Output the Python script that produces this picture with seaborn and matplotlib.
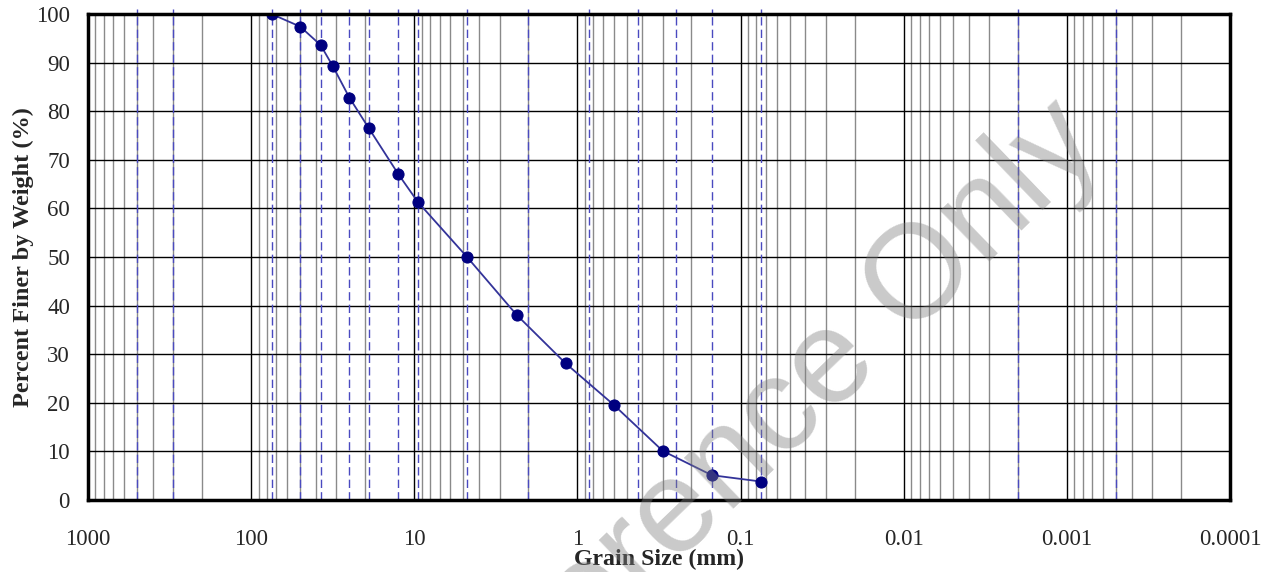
import matplotlib
matplotlib.use("Agg")
import matplotlib.pyplot as plt
import seaborn as sns
import pandas as pd
import numpy as np

# sieve results
grain_size = [75, 50, 37.5, 31.5, 25, 19, 12.5, 9.5, 4.75, 2.36, 1.18, 0.6, 0.3, 0.15, 0.075]
percent_finer = [100, 97.4, 93.6, 89.2, 82.8, 76.5, 67.0, 61.3, 50.0, 38.1, 28.1, 19.6, 10.1, 5.1, 3.8]

# dashed reference sizes (mm)
boundary_sizes = [500, 300, 75, 50, 37.5, 25, 19, 12.5, 9.5, 4.75, 2.0, 0.85, 0.425, 0.25,
                  0.15, 0.075, 0.002, 0.0005]

decades = [1000, 100, 10, 1, 0.1, 0.01, 0.001, 0.0001]
decade_labels = ["1000", "100", "10", "1", "0.1", "0.01", "0.001", "0.0001"]
y_ticks = [0, 10, 20, 30, 40, 50, 60, 70, 80, 90, 100]

df = pd.DataFrame({"size": grain_size, "finer": percent_finer})

sns.set_style("white")
plt.rcParams["font.family"] = ["Liberation Serif", "DejaVu Serif"]

fig = plt.figure(figsize=(12.7, 5.72), dpi=100)
ax = fig.add_axes([88 / 1270, 1 - 500 / 572, (1230 - 88) / 1270, (500 - 14) / 572])

# log grid: decade lines black, 2..9 lines gray
minor_pos = [m * d for d in decades[1:] for m in range(2, 10)]
for d in decades:
    ax.axvline(d, color="black", lw=1, zorder=1)
for m in minor_pos:
    ax.axvline(m, color="#8a8a8a", lw=1, zorder=1)
for yv in y_ticks[1:-1]:
    ax.axhline(yv, color="black", lw=1, zorder=1)
for b in boundary_sizes:
    ax.axvline(b, ymax=1.01, color="#4a4ac0", lw=1, dashes=(6, 3), zorder=2, clip_on=False)

sns.lineplot(data=df, x="size", y="finer", sort=False, ax=ax, color="#333399", lw=1.3,
             marker="o", markersize=8, markerfacecolor="#000080", markeredgecolor="#000080",
             zorder=4)

ax.set_xscale("log")
ax.set_xlim(1000, 0.0001)
ax.set_ylim(0, 100)
ax.set_xticks(decades)
ax.set_xticklabels(decade_labels)
ax.set_xticks(minor_pos, minor=True)
ax.set_xticklabels([], minor=True)
ax.set_yticks(y_ticks)
ax.set_yticks(np.arange(0, 101, 2), minor=True)

ax.tick_params(axis="x", which="major", direction="in", length=7, width=2, labelsize=16.5, pad=21)
ax.tick_params(axis="x", which="minor", direction="in", length=4, width=2)
ax.tick_params(axis="y", which="major", direction="in", length=7, width=2, labelsize=16.5, pad=13)
ax.tick_params(axis="y", which="minor", direction="in", length=6, width=2)
ax.tick_params(top=False, right=False, which="both")

for s in ax.spines.values():
    s.set_visible(True)
    s.set_color("black")
    s.set_linewidth(2.5)
    s.set_zorder(5)

ax.set_xlabel("Grain Size (mm)", fontsize=17.2, fontweight="bold")
ax.set_ylabel("Percent Finer by Weight (%)", fontsize=17.5, fontweight="bold")
ax.xaxis.set_label_coords(0.5, -0.101)
ax.yaxis.set_label_coords(-0.047, 0.5)

fig.text(749 / 1270, 1 - 446 / 572, "Reference Only", fontsize=96, color="gray", alpha=0.42,
         rotation=44, rotation_mode="anchor", ha="center", va="center",
         family=["Liberation Sans", "DejaVu Sans"], zorder=10)

fig.savefig("out.png", dpi=100)
